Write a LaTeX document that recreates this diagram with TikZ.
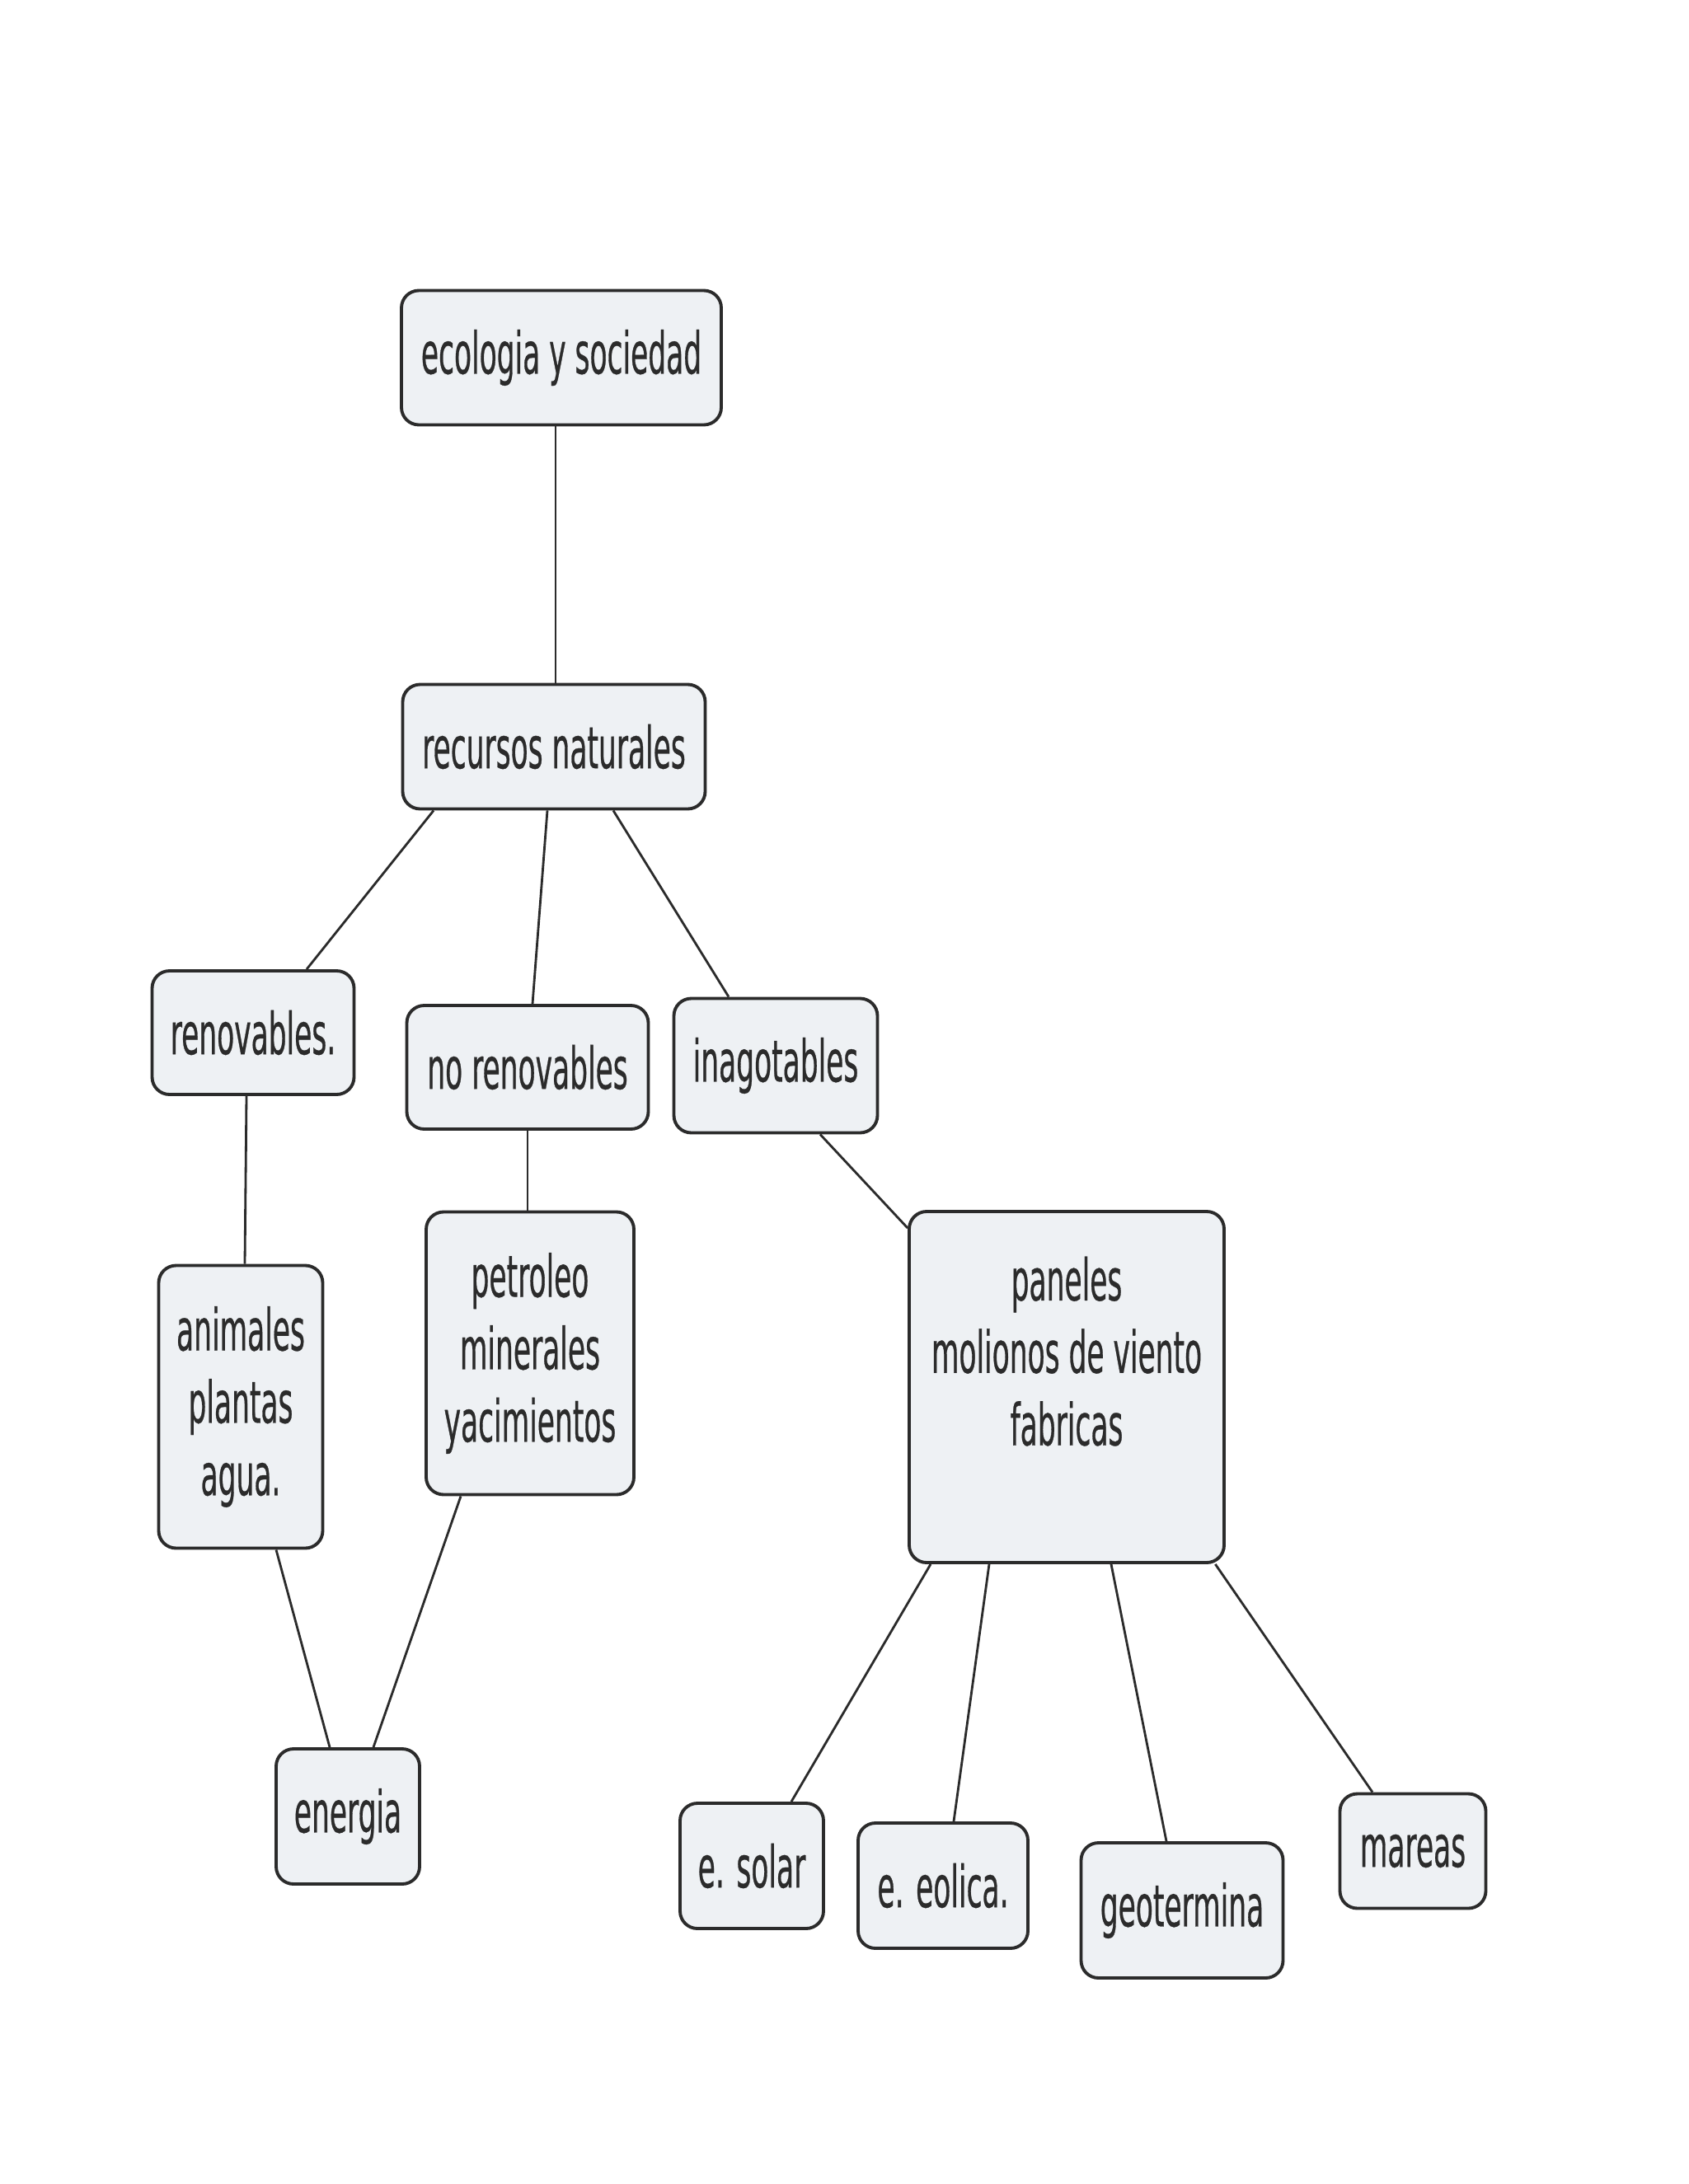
\documentclass[tikz,border=0pt]{standalone}
\usepackage{fontspec}
\setmainfont{DejaVu Sans}[FakeStretch=0.49,FakeBold=0.4]
\usetikzlibrary{calc}
\definecolor{ink}{HTML}{2B2B2B}
\definecolor{paper}{HTML}{EEF1F4}
\tikzset{
  concept/.style={rounded corners=6pt,draw=ink,fill=paper,line width=1.1pt,align=center,
    inner sep=3pt,text=ink,font=\fontsize{20}{25}\selectfont},
  link/.style={line width=0.8pt,draw=ink},
}

\begin{document}
\begin{tikzpicture}
    \fill[white] (0,0) rectangle (20.48,-26.5);
    \useasboundingbox (0,0) rectangle (20.48,-26.5);

    \node[concept,minimum width=3.88cm,minimum height=1.63cm] (eco) at (6.81,-4.34) {ecologia y sociedad};
    \node[concept,minimum width=3.67cm,minimum height=1.51cm] (rec) at (6.72,-9.06) {recursos naturales};

    \node[concept,minimum width=2.45cm,minimum height=1.50cm] (ren) at (3.07,-12.53) {renovables.};
    \node[concept,minimum width=2.93cm,minimum height=1.50cm] (nor) at (6.40,-12.95) {no renovables};
    \node[concept,minimum width=2.47cm,minimum height=1.63cm] (ina) at (9.41,-12.93) {inagotables};

    \node[concept,minimum width=1.99cm,minimum height=3.43cm] (ani) at (2.92,-17.07) {animales\\plantas\\agua.};
    \node[concept,minimum width=2.52cm,minimum height=3.43cm] (pet) at (6.43,-16.42) {petroleo\\minerales\\yacimientos};
    \node[concept,minimum width=3.82cm,minimum height=4.26cm] (pan) at (12.94,-16.83)
      {paneles\\molionos de viento\\fabricas\\\mbox{}};

    \node[concept,minimum width=1.74cm,minimum height=1.64cm] (ene) at (4.22,-22.04) {energia};

    \node[concept,minimum width=1.74cm,minimum height=1.52cm] (sol) at (9.12,-22.64) {e. solar};
    \node[concept,minimum width=2.06cm,minimum height=1.52cm] (eol) at (11.44,-22.88) {e. eolica.};
    \node[concept,minimum width=2.45cm,minimum height=1.64cm] (geo) at (14.34,-23.18) {geotermina};
    \node[concept,minimum width=1.77cm,minimum height=1.39cm] (mar) at (17.14,-22.46) {mareas};

    \draw[link] ($(rec.north |- eco.south)+(0.02,0)$) -- ($(rec.north)+(0.02,0)$);
    \draw[link] ($(rec.south)+(-1.46,0)$) -- ($(ren.north)+(0.65,0)$);
    \draw[link] ($(rec.south)+(-0.08,0)$) -- ($(nor.north)+(0.06,0)$);
    \draw[link] ($(rec.south)+(0.72,0)$) -- ($(ina.north)+(-0.57,0)$);
    \draw[link] ($(ren.south)+(-0.08,0)$) -- ($(ani.north)+(0.05,0)$);
    \draw[link] (nor.south) -- (nor.south |- pet.north);
    \draw[link] ($(ina.south)+(0.54,0)$) -- (pan.135);
    \draw[link] ($(ani.south)+(0.43,0)$) -- ($(ene.north)+(-0.22,0)$);
    \draw[link] ($(pet.south)+(-0.84,0)$) -- ($(ene.north)+(0.31,0)$);
    \draw[link] ($(pan.south)+(-1.65,0)$) -- ($(sol.north)+(0.48,0)$);
    \draw[link] ($(pan.south)+(-0.94,0)$) -- ($(eol.north)+(0.13,0)$);
    \draw[link] ($(pan.south)+(0.54,0)$) -- ($(geo.north)+(-0.19,0)$);
    \draw[link] (pan.-50) -- ($(mar.north)+(-0.49,0)$);
\end{tikzpicture}
\end{document}
